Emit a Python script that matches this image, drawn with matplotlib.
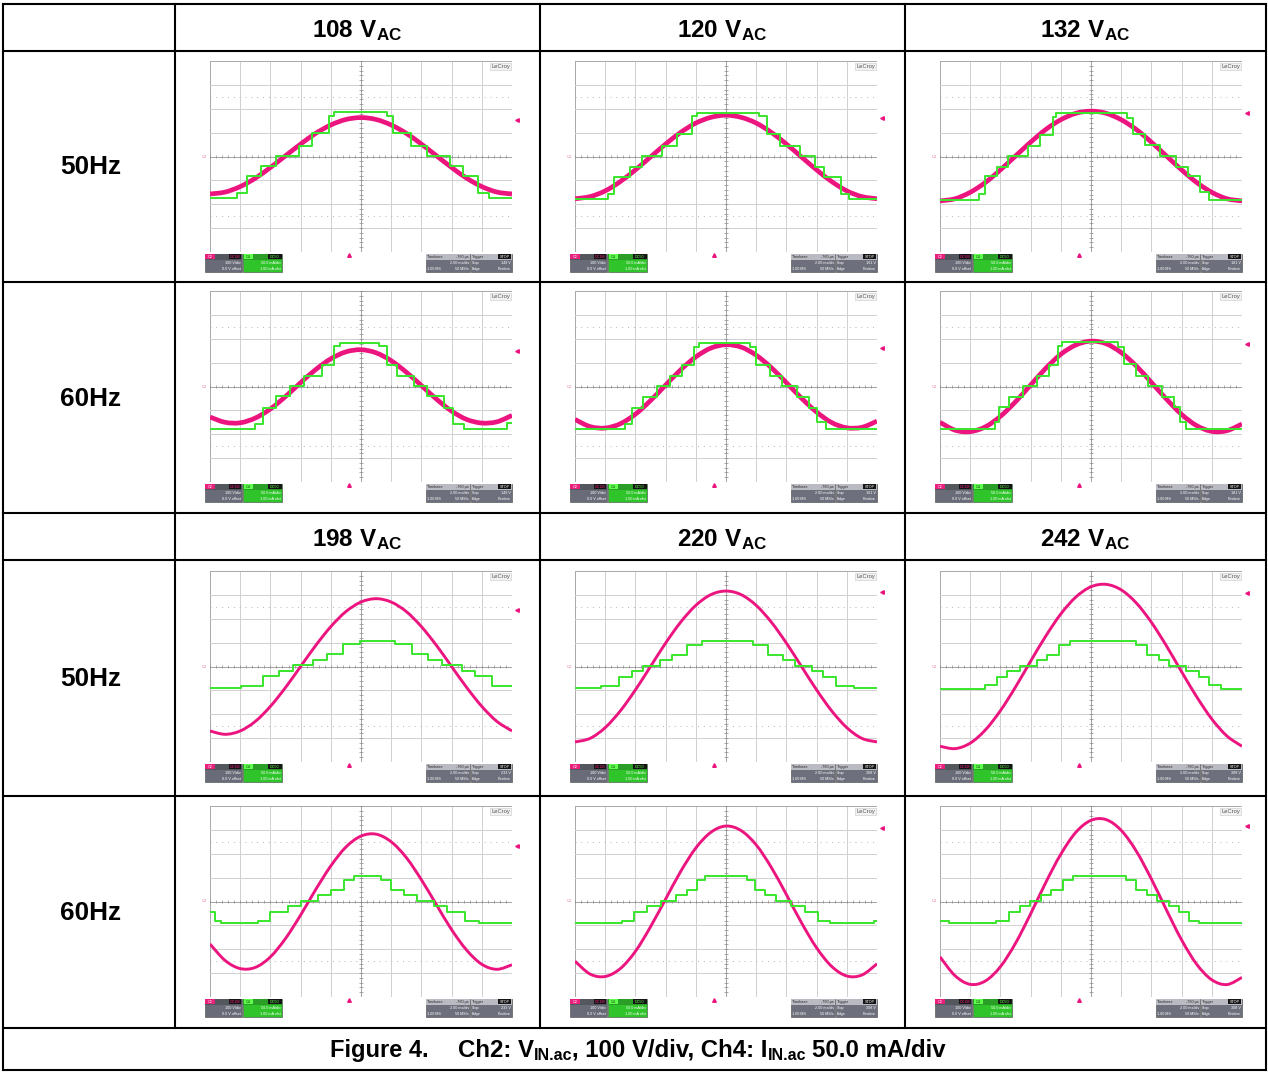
import matplotlib.pyplot as plt
from matplotlib.patches import Rectangle, PathPatch
from matplotlib.collections import LineCollection
from matplotlib.path import Path

plt.rcParams['font.family'] = ['Liberation Sans', 'DejaVu Sans']
plt.rcParams['mathtext.fontset'] = 'custom'
plt.rcParams['mathtext.rm'] = 'Liberation Sans:bold'
plt.rcParams['mathtext.bf'] = 'Liberation Sans:bold'
plt.rcParams['mathtext.it'] = 'Liberation Sans:bold'
plt.rcParams['mathtext.sf'] = 'Liberation Sans:bold'

# ==========================================
# data (scope divisions: x 0..10, y -4..4)
# ==========================================
vac_low = ['108', '120', '132']
vac_high = ['198', '220', '242']
freq_labels = ['50Hz', '60Hz']

# sample positions of the Ch2 (voltage) trace, in divisions
x_pts = [0.0, 0.5, 1.0, 1.5, 2.0, 2.5, 3.0, 3.5, 4.0, 4.5, 5.0,
         5.5, 6.0, 6.5, 7.0, 7.5, 8.0, 8.5, 9.0, 9.5, 10.0]

# Ch2 voltage (100 V/div)
v_108_50 = [-1.57, -1.49, -1.26, -0.91, -0.46, 0.03, 0.52, 0.97, 1.32, 1.55, 1.63,
            1.55, 1.32, 0.97, 0.52, 0.03, -0.46, -0.91, -1.26, -1.49, -1.57]
v_120_50 = [-1.77, -1.68, -1.44, -1.05, -0.56, -0.02, 0.52, 1.01, 1.40, 1.64, 1.73,
            1.64, 1.40, 1.01, 0.52, -0.02, -0.56, -1.05, -1.44, -1.68, -1.77]
v_132_50 = [-1.86, -1.77, -1.50, -1.09, -0.56, 0.02, 0.60, 1.13, 1.54, 1.81, 1.90,
            1.81, 1.54, 1.13, 0.60, 0.02, -0.56, -1.09, -1.50, -1.77, -1.86]
v_108_60 = [-1.28, -1.50, -1.52, -1.32, -0.94, -0.42, 0.16, 0.71, 1.16, 1.45, 1.54,
            1.41, 1.08, 0.60, 0.04, -0.53, -1.03, -1.38, -1.53, -1.48, -1.21]
v_120_60 = [-1.38, -1.68, -1.74, -1.56, -1.16, -0.59, 0.06, 0.70, 1.24, 1.61, 1.75,
            1.65, 1.31, 0.79, 0.16, -0.49, -1.07, -1.51, -1.73, -1.71, -1.45]
v_132_60 = [-1.50, -1.83, -1.89, -1.69, -1.25, -0.64, 0.06, 0.76, 1.35, 1.74, 1.90,
            1.79, 1.42, 0.86, 0.17, -0.53, -1.17, -1.64, -1.88, -1.85, -1.57]
v_198_50 = [-2.70, -2.84, -2.70, -2.30, -1.67, -0.88, 0.00, 0.88, 1.67, 2.30, 2.70,
            2.84, 2.70, 2.30, 1.67, 0.88, 0.00, -0.88, -1.67, -2.30, -2.70]
v_220_50 = [-3.16, -3.01, -2.56, -1.86, -0.98, 0.00, 0.98, 1.86, 2.56, 3.01, 3.16,
            3.01, 2.56, 1.86, 0.98, 0.00, -0.98, -1.86, -2.56, -3.01, -3.16]
v_242_50 = [-3.34, -3.44, -3.21, -2.66, -1.85, -0.86, 0.22, 1.27, 2.20, 2.91, 3.34,
            3.44, 3.21, 2.66, 1.85, 0.86, -0.22, -1.27, -2.20, -2.91, -3.34]
v_198_60 = [-1.78, -2.47, -2.81, -2.76, -2.32, -1.55, -0.57, 0.50, 1.49, 2.28, 2.74,
            2.82, 2.50, 1.84, 0.91, -0.14, -1.18, -2.04, -2.63, -2.84, -2.65]
v_220_60 = [-2.50, -3.04, -3.14, -2.81, -2.09, -1.06, 0.10, 1.26, 2.24, 2.90, 3.16,
            2.97, 2.37, 1.43, 0.29, -0.89, -1.94, -2.72, -3.12, -3.08, -2.61]
v_242_60 = [-2.32, -3.11, -3.47, -3.33, -2.73, -1.75, -0.52, 0.79, 1.98, 2.90, 3.40,
            3.43, 2.98, 2.11, 0.94, -0.36, -1.61, -2.63, -3.28, -3.48, -3.18]

# Ch4 current (50 mA/div): step edges and levels
i_108_50_x = [0, 0.88, 1.22, 1.69, 2.19, 2.95, 3.37, 3.95, 4.10, 5.85, 6.05, 6.66, 7.17, 7.96, 8.38, 8.89, 9.23, 10]
i_108_50_y = [-1.72, -1.54, -0.80, -0.40, 0.03, 0.44, 0.97, 1.70, 1.88, 1.70, 0.97, 0.44, 0.03, -0.40, -0.80, -1.54, -1.72, -1.72]
i_120_50_x = [0, 1.10, 1.28, 1.82, 2.21, 2.87, 3.37, 3.87, 4.05, 6.08, 6.35, 6.80, 7.45, 7.95, 8.25, 8.80, 9.06, 10]
i_120_50_y = [-1.80, -1.55, -0.85, -0.42, 0.02, 0.45, 0.93, 1.70, 1.82, 1.70, 0.93, 0.45, 0.02, -0.42, -0.85, -1.55, -1.80, -1.80]
i_132_50_x = [0, 1.30, 1.50, 1.90, 2.25, 2.90, 3.30, 3.75, 3.85, 6.20, 6.40, 6.80, 7.30, 7.80, 8.20, 8.60, 8.90, 10]
i_132_50_y = [-1.83, -1.55, -0.82, -0.45, 0.04, 0.45, 0.90, 1.65, 1.82, 1.62, 0.93, 0.48, 0.03, -0.45, -0.82, -1.50, -1.83, -1.83]
i_108_60_x = [0, 1.49, 1.77, 2.20, 2.65, 3.10, 3.70, 4.10, 4.30, 5.60, 5.85, 6.20, 6.75, 7.20, 7.75, 8.05, 8.40, 9.85, 10]
i_108_60_y = [-1.77, -1.55, -0.90, -0.40, 0.02, 0.42, 0.92, 1.70, 1.84, 1.70, 0.92, 0.42, 0.02, -0.40, -0.90, -1.55, -1.77, -1.52, -1.52]
i_120_60_x = [0, 1.66, 1.90, 2.25, 2.70, 3.15, 3.55, 3.95, 4.10, 5.80, 6.00, 6.45, 6.85, 7.35, 7.75, 8.00, 8.30, 10]
i_120_60_y = [-1.80, -1.55, -0.88, -0.42, 0.02, 0.45, 0.92, 1.65, 1.82, 1.65, 0.92, 0.45, 0.02, -0.42, -0.88, -1.50, -1.80, -1.80]
i_132_60_x = [0, 1.82, 1.95, 2.30, 2.75, 3.20, 3.60, 3.90, 4.05, 5.90, 6.10, 6.50, 6.90, 7.35, 7.75, 7.95, 8.15, 10]
i_132_60_y = [-1.80, -1.50, -0.85, -0.45, 0.02, 0.45, 0.90, 1.70, 1.85, 1.65, 0.95, 0.45, 0.02, -0.42, -0.85, -1.50, -1.80, -1.80]
i_198_50_x = [0, 1.04, 1.76, 2.29, 2.76, 3.40, 3.86, 4.40, 4.97, 6.11, 6.70, 7.22, 7.69, 8.35, 8.78, 9.33, 10]
i_198_50_y = [-0.92, -0.80, -0.41, -0.18, 0.06, 0.28, 0.51, 0.93, 1.07, 0.93, 0.51, 0.28, 0.06, -0.18, -0.41, -0.80, -0.80]
i_220_50_x = [0, 0.86, 1.46, 1.90, 2.25, 2.80, 3.20, 3.70, 4.20, 5.90, 6.40, 6.90, 7.30, 7.85, 8.20, 8.64, 9.24, 10]
i_220_50_y = [-0.92, -0.80, -0.42, -0.20, 0.04, 0.28, 0.50, 0.92, 1.05, 0.92, 0.50, 0.28, 0.04, -0.20, -0.42, -0.80, -0.92, -0.92]
i_242_50_x = [0, 1.50, 1.88, 2.21, 2.66, 3.21, 3.54, 3.93, 4.32, 6.48, 6.87, 7.26, 7.59, 8.14, 8.59, 8.92, 9.30, 10]
i_242_50_y = [-0.95, -0.77, -0.42, -0.20, 0.04, 0.28, 0.49, 0.91, 1.05, 0.91, 0.49, 0.28, 0.04, -0.20, -0.42, -0.77, -0.95, -0.95]
i_198_60_x = [0, 0.15, 0.37, 1.59, 2.00, 2.58, 3.02, 3.57, 4.00, 4.45, 4.78, 5.66, 6.00, 6.44, 6.87, 7.42, 7.86, 8.44, 8.90, 10]
i_198_60_y = [-0.42, -0.80, -0.92, -0.80, -0.42, -0.20, 0.04, 0.28, 0.50, 0.92, 1.05, 0.92, 0.50, 0.28, 0.04, -0.20, -0.42, -0.80, -0.92, -0.92]
i_220_60_x = [0, 1.54, 1.95, 2.40, 2.85, 3.35, 3.70, 4.05, 4.30, 5.70, 5.95, 6.30, 6.65, 7.15, 7.60, 8.05, 8.46, 9.90, 10]
i_220_60_y = [-0.92, -0.80, -0.42, -0.20, 0.04, 0.28, 0.50, 0.92, 1.05, 0.92, 0.50, 0.28, 0.04, -0.20, -0.42, -0.80, -0.92, -0.80, -0.80]
i_242_60_x = [0, 0.29, 1.87, 2.30, 2.64, 2.97, 3.36, 3.67, 4.07, 4.40, 6.15, 6.48, 6.87, 7.18, 7.57, 7.90, 8.24, 8.57, 10]
i_242_60_y = [-0.80, -0.92, -0.80, -0.42, -0.20, 0.04, 0.28, 0.50, 0.92, 1.05, 0.92, 0.50, 0.28, 0.04, -0.20, -0.42, -0.80, -0.92, -0.92]

# trigger level marker (div) and readout, row by row
trig_level = [1.54, 1.61, 1.82, 1.50, 1.61, 1.80, 2.37, 3.10, 3.09, 2.34, 3.08, 3.15]
trig_text = ['149 V', '161 V', '181 V', '149 V', '161 V', '181 V',
             '233 V', '308 V', '308 V', '233 V', '308 V', '308 V']

panels = [
    (v_108_50, i_108_50_x, i_108_50_y), (v_120_50, i_120_50_x, i_120_50_y), (v_132_50, i_132_50_x, i_132_50_y),
    (v_108_60, i_108_60_x, i_108_60_y), (v_120_60, i_120_60_x, i_120_60_y), (v_132_60, i_132_60_x, i_132_60_y),
    (v_198_50, i_198_50_x, i_198_50_y), (v_220_50, i_220_50_x, i_220_50_y), (v_242_50, i_242_50_x, i_242_50_y),
    (v_198_60, i_198_60_x, i_198_60_y), (v_220_60, i_220_60_x, i_220_60_y), (v_242_60, i_242_60_x, i_242_60_y),
]

# ==========================================
# layout (pixels)
# ==========================================
W, H = 1268, 1072
col_lines = [3, 175, 540, 905, 1266]
row_lines = [4, 51, 282, 513, 560, 796, 1028, 1070]
grid_tops = [61, 291, 571, 806]
grid_w, grid_h = 302, 191

c_pink = '#ec1580'
c_green = '#3ae62c'

fig = plt.figure(figsize=(W / 100, H / 100), dpi=100)
bg = fig.add_axes([0, 0, 1, 1])
bg.set_xlim(0, W)
bg.set_ylim(H, 0)
bg.axis('off')
renderer = fig.canvas.get_renderer()

# table lines
lw_tab = 1.5
for y in row_lines:
    bg.plot([col_lines[0], col_lines[-1]], [y, y], color='black', lw=lw_tab, solid_capstyle='projecting')
for x in [col_lines[0], col_lines[-1]]:
    bg.plot([x, x], [row_lines[0], row_lines[-1]], color='black', lw=lw_tab, solid_capstyle='projecting')
for x in col_lines[1:-1]:
    bg.plot([x, x], [row_lines[0], row_lines[-2]], color='black', lw=lw_tab, solid_capstyle='projecting')

# header texts
col_centers = [(col_lines[i] + col_lines[i + 1]) / 2 for i in range(1, 4)]
for i, v in enumerate(vac_low):
    bg.text(col_centers[i], 37, r'$\mathbf{%s\ V_{AC}}$' % v, fontsize=17.5, ha='center', va='baseline')
for i, v in enumerate(vac_high):
    bg.text(col_centers[i], 546, r'$\mathbf{%s\ V_{AC}}$' % v, fontsize=17.5, ha='center', va='baseline')

row_mid = [(51 + 282) / 2, (282 + 513) / 2, (560 + 796) / 2, (796 + 1028) / 2]
for k, ym in enumerate(row_mid):
    bg.text(91, ym + 8, freq_labels[k % 2], fontsize=18.8, fontweight='bold', ha='center', va='baseline')


def runs_text(x, y, runs):
    # runs: (text, size, drop_px, gap_after_px) placed one after another
    for txt, size, drop, gap in runs:
        t = bg.text(x, y + drop, txt, fontsize=size, fontweight='bold', ha='left', va='baseline')
        x = x + t.get_window_extent(renderer).width + gap


# caption
runs_text(330, 1057, [('Figure 4.', 17, 0, 0)])
runs_text(458, 1057, [('Ch2: V', 17.3, 0, 0), ('IN.ac', 11.5, 3, 0),
                      (', 100 V/div, Ch4: I', 17.3, 0, 0), ('IN.ac', 11.5, 3, 6),
                      ('50.0 mA/div', 17.3, 0, 0)])


def smooth_path(xs, ys):
    pts = list(zip(xs, ys))
    n = len(pts)
    verts = [pts[0]]
    codes = [Path.MOVETO]
    for i in range(n - 1):
        p0 = pts[i - 1] if i > 0 else pts[i]
        p1, p2 = pts[i], pts[i + 1]
        p3 = pts[i + 2] if i + 2 < n else pts[i + 1]
        c1 = (p1[0] + (p2[0] - p0[0]) / 6, p1[1] + (p2[1] - p0[1]) / 6)
        c2 = (p2[0] - (p3[0] - p1[0]) / 6, p2[1] - (p3[1] - p1[1]) / 6)
        verts += [c1, c2, p2]
        codes += [Path.CURVE4] * 3
    return Path(verts, codes)


def draw_grid(ax):
    for i in range(11):
        col = '#a8a8a8' if i in (0, 10) else '#d0d0d0'
        ax.plot([i, i], [-4, 4], color=col, lw=0.7, zorder=1)
    for j in range(-4, 5):
        col = '#a8a8a8' if j in (-4, 4) else '#d0d0d0'
        ax.plot([0, 10], [j, j], color=col, lw=0.7, zorder=1)
    for yy in (2.5, -2.5):
        ax.plot([0, 10], [yy, yy], color='#b4b4b4', lw=0.7, ls=(0, (1, 5)), zorder=1)
    ax.plot([5, 5], [-4, 4], color='#a4a4a4', lw=0.7, zorder=1)
    ax.plot([0, 10], [0, 0], color='#a4a4a4', lw=0.7, zorder=1)
    segs = [[(k * 0.2, -0.06), (k * 0.2, 0.06)] for k in range(51)]
    segs += [[(4.93, k * 0.2 - 4), (5.07, k * 0.2 - 4)] for k in range(41)]
    ax.add_collection(LineCollection(segs, colors='#8a8a8a', linewidths=0.5, zorder=1))
    ax.text(9.93, 3.88, 'LeCroy', fontsize=4.2, color='#555555', ha='right', va='top',
            bbox=dict(boxstyle='square,pad=0.15', fc='#f2f2f2', ec='#c8c8c8', lw=0.4))


def draw_status(ax, ttxt):
    y0, y1, yh = -4.84, -4.08, -4.33
    fs = 2.7

    def box(x0, x1, body, head):
        ax.add_patch(Rectangle((x0, y0), x1 - x0, y1 - y0, fc=body, ec='#444444', lw=0.4, clip_on=False))
        ax.add_patch(Rectangle((x0, yh), x1 - x0, y1 - yh, fc=head, ec='none', clip_on=False))

    # C2
    box(-0.17, 1.06, '#696c78', '#55575f')
    ax.add_patch(Rectangle((-0.15, yh + 0.02), 0.3, 0.21, fc='#e8207e', ec='none', clip_on=False))
    ax.add_patch(Rectangle((0.62, yh + 0.02), 0.42, 0.21, fc='#151515', ec='none', clip_on=False))
    ax.text(0.0, (yh + y1) / 2, 'C2', fontsize=fs, color='white', ha='center', va='center')
    ax.text(0.83, (yh + y1) / 2, 'DC1M', fontsize=fs, color='#e8207e', ha='center', va='center')
    ax.text(1.02, -4.48, '100 V/div', fontsize=fs, color='white', ha='right', va='center')
    ax.text(1.02, -4.70, '0.0 V offset', fontsize=fs, color='white', ha='right', va='center')
    # C4
    box(1.09, 2.39, '#2fc42a', '#2a9e27')
    ax.add_patch(Rectangle((1.11, yh + 0.02), 0.3, 0.21, fc='#5cff4a', ec='none', clip_on=False))
    ax.add_patch(Rectangle((1.92, yh + 0.02), 0.45, 0.21, fc='#151515', ec='none', clip_on=False))
    ax.text(1.26, (yh + y1) / 2, 'C4', fontsize=fs, color='#103010', ha='center', va='center')
    ax.text(2.15, (yh + y1) / 2, 'DC50', fontsize=fs, color='#5cff4a', ha='center', va='center')
    ax.text(2.35, -4.48, '50.0 mA/div', fontsize=fs, color='white', ha='right', va='center')
    ax.text(2.35, -4.70, '1.00 mA ofst', fontsize=fs, color='white', ha='right', va='center')
    # timebase
    box(7.15, 8.60, '#6d707c', '#b9bac2')
    ax.text(7.18, (yh + y1) / 2, 'Timebase', fontsize=fs, color='#222222', ha='left', va='center')
    ax.text(8.57, (yh + y1) / 2, '-760 \u00b5s', fontsize=fs, color='#222222', ha='right', va='center')
    ax.text(8.57, -4.48, '2.00 ms/div', fontsize=fs, color='white', ha='right', va='center')
    ax.text(7.18, -4.70, '1.00 MS', fontsize=fs, color='white', ha='left', va='center')
    ax.text(8.57, -4.70, '50 MS/s', fontsize=fs, color='white', ha='right', va='center')
    # trigger
    box(8.64, 10.0, '#6d707c', '#b9bac2')
    ax.add_patch(Rectangle((9.55, yh + 0.02), 0.43, 0.21, fc='#151515', ec='none', clip_on=False))
    ax.text(8.67, (yh + y1) / 2, 'Trigger', fontsize=fs, color='#222222', ha='left', va='center')
    ax.text(9.77, (yh + y1) / 2, 'STOP', fontsize=fs, color='white', ha='center', va='center')
    ax.text(8.67, -4.48, 'Stop', fontsize=fs, color='white', ha='left', va='center')
    ax.text(9.97, -4.48, ttxt, fontsize=fs, color='white', ha='right', va='center')
    ax.text(8.67, -4.70, 'Edge', fontsize=fs, color='white', ha='left', va='center')
    ax.text(9.97, -4.70, 'Positive', fontsize=fs, color='white', ha='right', va='center')


for n, (vy, gx, gy) in enumerate(panels):
    r, c = divmod(n, 3)
    left = col_lines[c + 1] + 35
    top = grid_tops[r]
    ax = fig.add_axes([left / W, 1 - (top + grid_h) / H, grid_w / W, grid_h / H])
    ax.set_xlim(0, 10)
    ax.set_ylim(-4, 4)
    ax.axis('off')
    draw_grid(ax)
    lw_v = 3.4 if r < 2 else 2.1
    ax.add_patch(PathPatch(smooth_path(x_pts, vy), fill=False, ec=c_pink, lw=lw_v,
                           capstyle='butt', joinstyle='round', zorder=3))
    ax.step(gx, gy, where='post', color=c_green, lw=1.4, zorder=4)
    # channel / trigger markers
    ax.text(-0.1, 0, 'C2', fontsize=3, color='#e27aa6', ha='right', va='center')
    ax.plot([10.18], [trig_level[n]], marker='<', ms=2.6, color=c_pink, clip_on=False)
    ax.plot([4.6], [-4.14], marker='^', ms=2.6, color=c_pink, clip_on=False)
    draw_status(ax, trig_text[n])

fig.savefig('out.png', dpi=100, facecolor='white')
